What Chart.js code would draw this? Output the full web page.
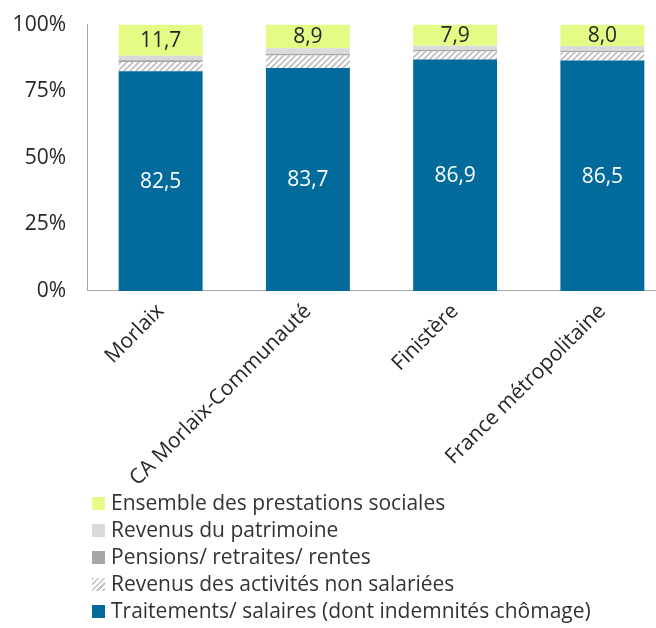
<!DOCTYPE html>
<html>
<head>
<meta charset="utf-8">
<script src="https://cdn.jsdelivr.net/npm/chart.js@4/dist/chart.umd.min.js"></script>
<style>
  html, body { margin: 0; padding: 0; background: #fff; overflow: hidden; }
  body { width: 656px; height: 628px; position: relative; font-family: "Open Sans", sans-serif; }
  #wrap { position: absolute; left: 0; top: -9px; width: 676px; height: 508px; }
  #legend { position: absolute; left: 92px; top: 489px; color: #333; font-size: 21px; }
  .item { height: 27px; line-height: 27px; white-space: nowrap; }
  .sw { display: inline-block; width: 13px; height: 13px; margin-right: 6px; vertical-align: 0px; }
</style>
</head>
<body>
<div id="wrap"><canvas id="bar-chart" width="676" height="508"></canvas></div>
<div id="legend"></div>
<script>
var categories = ["Morlaix", "CA Morlaix-Communauté", "Finistère", "France métropolitaine"];
var traitements = [82.5, 83.7, 86.9, 86.5];
var nonSalariees = [3.5, 4.7, 3.0, 3.1];
var pensions = [0.6, 0.6, 0.6, 0.6];
var patrimoine = [1.7, 2.1, 1.6, 1.8];
var prestations = [11.7, 8.9, 7.9, 8.0];
var yTicks = [0, 25, 50, 75, 100];

// motif hachuré
var pc = document.createElement("canvas");
pc.width = 6; pc.height = 6;
var p = pc.getContext("2d");
p.fillStyle = "#fff";
p.fillRect(0, 0, 6, 6);
p.strokeStyle = "#bdbdbd";
p.lineWidth = 1.6;
p.beginPath();
p.moveTo(-1, 7); p.lineTo(7, -1);
p.moveTo(-4, 4); p.lineTo(4, -4);
p.moveTo(2, 10); p.lineTo(10, 2);
p.stroke();
var hatch = document.getElementById("bar-chart").getContext("2d").createPattern(pc, "repeat");

var series = [
  { label: "Traitements/ salaires (dont indemnités chômage)", data: traitements, color: "#036a9c", swatch: "#036a9c" },
  { label: "Revenus des activités non salariées", data: nonSalariees, color: hatch, swatch: "repeating-linear-gradient(135deg, #c4c4c4 0 1.5px, #fff 1.5px 4px)" },
  { label: "Pensions/ retraites/ rentes", data: pensions, color: "#a6a6a8", swatch: "#a6a6a8" },
  { label: "Revenus du patrimoine", data: patrimoine, color: "#dadada", swatch: "#dadada" },
  { label: "Ensemble des prestations sociales", data: prestations, color: "#e4fb86", swatch: "#e4fb86" }
];

var etiquettes = {
  id: "etiquettes",
  afterDatasetsDraw: function (chart) {
    var c = chart.ctx;
    c.save();
    c.font = "21px 'Open Sans'";
    c.textAlign = "center";
    c.textBaseline = "middle";
    [[0, "#fff"], [4, "#262626"]].forEach(function (d) {
      var meta = chart.getDatasetMeta(d[0]);
      c.fillStyle = d[1];
      meta.data.forEach(function (bar, i) {
        var v = chart.data.datasets[d[0]].data[i];
        c.fillText(v.toFixed(1).replace(".", ","), bar.x, (bar.y + bar.base) / 2 + 1);
      });
    });
    c.restore();
  }
};

var ctx = document.getElementById("bar-chart");
var myBarChart = new Chart(ctx, {
  type: "bar",
  data: {
    labels: categories,
    datasets: series.map(function (s) {
      return {
        label: s.label,
        data: s.data,
        backgroundColor: s.color,
        borderWidth: 0,
        categoryPercentage: 1,
        barPercentage: 0.57
      };
    })
  },
  options: {
    responsive: false,
    animation: false,
    layout: { padding: { top: 3, right: 0, left: 0, bottom: 0 } },
    plugins: { legend: { display: false }, tooltip: { enabled: false } },
    scales: {
      x: {
        stacked: true,
        grid: { display: false, drawTicks: false },
        border: { color: "#a6a6a6", width: 1 },
        ticks: { color: "#262626", font: { family: "Open Sans", size: 21 }, minRotation: 45, maxRotation: 45, padding: 8 }
      },
      y: {
        stacked: true,
        min: 0,
        max: 100,
        afterFit: function (s) { s.width = 87; },
        afterBuildTicks: function (s) { s.ticks = yTicks.map(function (v) { return { value: v }; }); },
        grid: { display: false, drawTicks: false },
        border: { color: "#a6a6a6", width: 1 },
        ticks: { color: "#262626", font: { family: "Open Sans", size: 21 }, padding: 21, callback: function (v) { return v + "%"; } }
      }
    }
  },
  plugins: [etiquettes]
});

var leg = document.getElementById("legend");
series.slice().reverse().forEach(function (s) {
  var d = document.createElement("div");
  d.className = "item";
  d.innerHTML = '<span class="sw" style="background:' + s.swatch + '"></span>' + s.label;
  leg.appendChild(d);
});
</script>
</body>
</html>
